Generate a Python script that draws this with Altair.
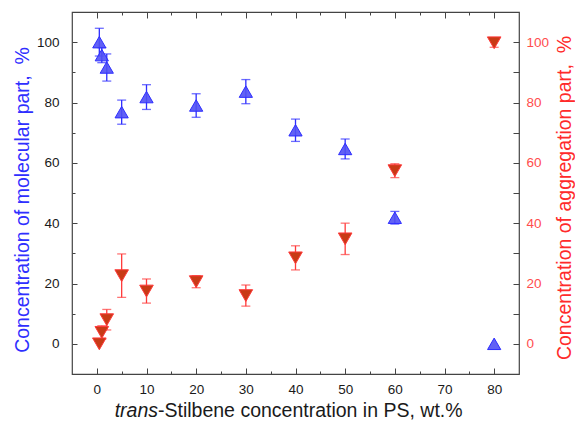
import altair as alt
import pandas as pd

# ---- data ----
conc = [0.5, 1, 2, 5, 10, 20, 30, 40, 50, 60, 80]
mol = [100, 95.7, 91.6, 76.8, 81.8, 79.0, 83.6, 70.8, 64.6, 41.8, 0]
mol_err = [4.6, 2.5, 4.5, 4.0, 4.1, 3.9, 4.0, 3.7, 3.3, 2.1, 0]
agg = [0, 3.8, 8.0, 22.6, 17.5, 20.6, 16.0, 28.5, 34.8, 57.4, 99.8]
agg_err = [0, 2.2, 3.4, 7.2, 4.0, 2.0, 3.5, 4.0, 5.2, 2.3, 1.5]

x_major = [0, 10, 20, 30, 40, 50, 60, 70, 80]
x_minor = [5, 15, 25, 35, 45, 55, 65, 75]
y_labels = [0, 20, 40, 60, 80, 100]
y_minor = [10, 30, 50, 70, 90]
y_right_ticks = [0, 10, 20, 30, 40, 50, 60, 70, 80, 90, 100]

x_title_italic = "trans"
x_title_rest = "-Stilbene concentration in PS, wt.%"
y_left_title = "Concentration of molecular part,\u00a0 %"
y_right_title = "Concentration of aggregation part,\u00a0 %"

df = pd.DataFrame({"conc": conc, "mol": mol, "mol_err": mol_err,
                   "agg": agg, "agg_err": agg_err})

W, H = 447, 362
FONT = "Liberation Sans"
BLUE_FILL, BLUE_LINE, BLUE_TXT = "#5050f4", "#2d2dff", "#2f2fff"
RED_FILL, RED_LINE, RED_TXT = "#c83a16", "#ff3a3a", "#ff2a2a"
TITLE_SIZE = 19.5
LABEL_SIZE = 13.5

xs = alt.Scale(domain=[-5, 85], nice=False, zero=False)
ys = alt.Scale(domain=[-10, 110], nice=False, zero=False)


def tick_axis(orient, offset, values, size):
    return alt.Axis(orient=orient, offset=offset, values=values, labels=False,
                    domain=False, ticks=True, tickSize=size, title=None,
                    grid=False, tickColor="#444", tickWidth=1)


ax_bottom_labels = alt.Axis(orient="bottom", values=x_major, ticks=False, domain=False,
                            labelPadding=8, labelFontSize=LABEL_SIZE, labelColor="#1a1a1a",
                            labelFont=FONT, title=None, grid=False, format="d")
ax_left_labels = alt.Axis(orient="left", values=y_labels, ticks=False, domain=False,
                          labelPadding=13, labelFontSize=LABEL_SIZE, labelColor="#1a1a1a",
                          labelFont=FONT, title=None, grid=False, format="d")
ax_right_labels = alt.Axis(orient="right", values=y_labels, ticks=False, domain=False,
                           labelPadding=7, labelFontSize=LABEL_SIZE, labelColor="#ff4d4d",
                           labelFont=FONT, title=None, grid=False, format="d")

base = alt.Chart(df).transform_calculate(
    mlo="datum.mol - datum.mol_err", mhi="datum.mol + datum.mol_err",
    alo="datum.agg - datum.agg_err", ahi="datum.agg + datum.agg_err")

blue_rules = base.transform_filter("datum.mol_err > 0").mark_rule(
    color=BLUE_LINE, strokeWidth=1.3).encode(
    x=alt.X("conc:Q", scale=xs, axis=ax_bottom_labels),
    y=alt.Y("mlo:Q", scale=ys, axis=ax_left_labels),
    y2="mhi:Q")

blue_caps = base.transform_filter("datum.mol_err > 0").transform_fold(
    ["mlo", "mhi"], as_=["k", "v"]).mark_tick(
    orient="horizontal", color=BLUE_LINE, size=9, thickness=1.3).encode(
    x=alt.X("conc:Q", scale=xs, axis=tick_axis("bottom", -H, x_major, 6)),
    y=alt.Y("v:Q", scale=ys, axis=tick_axis("right", -W, y_labels, 5)))

blue_pts = base.mark_point(shape="triangle-up", filled=True, size=175, opacity=1,
                           fill=BLUE_FILL, fillOpacity=0.9, stroke=BLUE_LINE,
                           strokeWidth=1).encode(
    x=alt.X("conc:Q", scale=xs, axis=tick_axis("bottom", -H, x_minor, 3)),
    y=alt.Y("mol:Q", scale=ys, axis=tick_axis("right", -W, y_minor, 3)))

red_rules = base.transform_filter("datum.agg_err > 0").mark_rule(
    color=RED_LINE, strokeWidth=1.3).encode(
    x=alt.X("conc:Q", scale=xs, axis=tick_axis("top", -H, x_major, 6)),
    y=alt.Y("alo:Q", scale=ys, axis=ax_right_labels),
    y2="ahi:Q")

red_caps = base.transform_filter("datum.agg_err > 0").transform_fold(
    ["alo", "ahi"], as_=["k", "v"]).mark_tick(
    orient="horizontal", color=RED_LINE, size=9, thickness=1.3).encode(
    x=alt.X("conc:Q", scale=xs, axis=tick_axis("top", -H, x_minor, 3)),
    y=alt.Y("v:Q", scale=ys, axis=tick_axis("left", -W, y_right_ticks, 6)))

red_pts = base.mark_point(shape="triangle-down", filled=True, size=185, opacity=1,
                          fill=RED_FILL, fillOpacity=1, stroke=RED_LINE,
                          strokeWidth=1).encode(
    x=alt.X("conc:Q", scale=xs, axis=None),
    y=alt.Y("agg:Q", scale=ys, axis=None))

one = pd.DataFrame({"i": [0]})
t_left = alt.Chart(one).mark_text(text=y_left_title, angle=270, font=FONT, fontSize=TITLE_SIZE,
                                  color=BLUE_TXT, align="center", baseline="middle").encode(
    x=alt.value(-49), y=alt.value(188))
t_right = alt.Chart(one).mark_text(text=y_right_title, angle=270, font=FONT, fontSize=TITLE_SIZE,
                                   color=RED_TXT, align="center", baseline="middle").encode(
    x=alt.value(W + 46), y=alt.value(186))
t_bot1 = alt.Chart(one).mark_text(text=x_title_italic, font=FONT, fontSize=TITLE_SIZE,
                                  fontStyle="italic", color="#1a1a1a", align="right",
                                  baseline="middle").encode(
    x=alt.value(86), y=alt.value(H + 37))
t_bot2 = alt.Chart(one).mark_text(text=x_title_rest, font=FONT, fontSize=TITLE_SIZE,
                                  color="#1a1a1a", align="left", baseline="middle").encode(
    x=alt.value(86), y=alt.value(H + 37))

chart = alt.layer(
    blue_rules, blue_caps, blue_pts, red_rules, red_caps, red_pts,
    t_left, t_right, t_bot1, t_bot2
).resolve_axis(x="independent", y="independent").properties(
    width=W, height=H,
    padding={"left": 72, "top": 12, "right": 56, "bottom": 55},
    autosize=alt.AutoSizeParams(type="none"),
    background="white"
).configure_view(stroke="#444", strokeWidth=1.2).configure_axis(grid=False)

chart.save("out.html", embed_options={"renderer": "svg", "actions": False})
